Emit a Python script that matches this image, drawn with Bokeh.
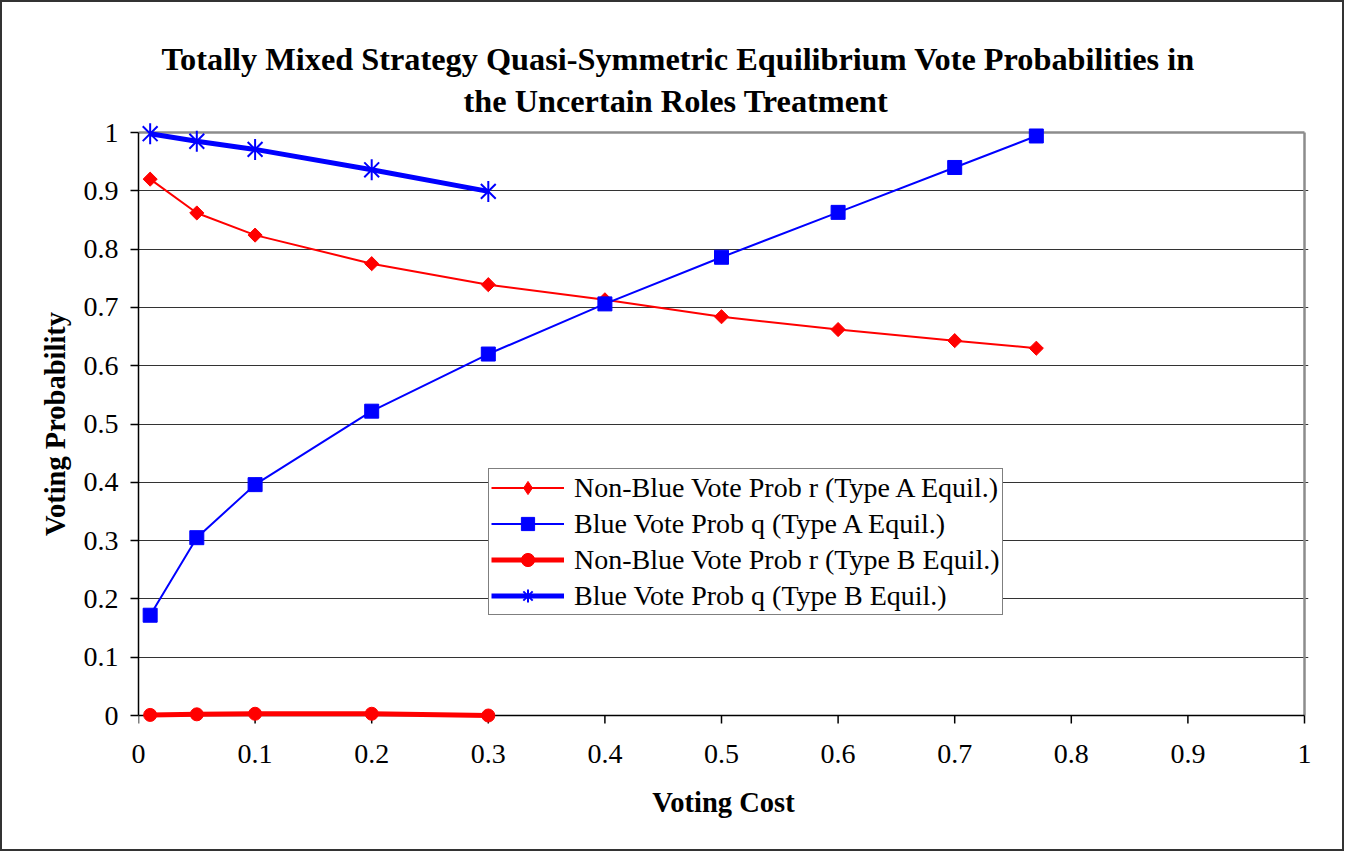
import math
from bokeh.plotting import figure
from bokeh.models import Range1d, FixedTicker, Legend, LegendItem, Title
from bokeh.embed import file_html
from bokeh.resources import INLINE

# ---- data ----
cost_a = [0.01, 0.05, 0.1, 0.2, 0.3, 0.4, 0.5, 0.6, 0.7, 0.77]
r_type_a = [0.920, 0.862, 0.824, 0.775, 0.739, 0.713, 0.684, 0.662, 0.643, 0.630]
q_type_a = [0.172, 0.305, 0.396, 0.522, 0.620, 0.706, 0.786, 0.863, 0.940, 0.994]
cost_b = [0.01, 0.05, 0.1, 0.2, 0.3]
r_type_b = [0.001, 0.002, 0.003, 0.003, 0.0]
q_type_b = [0.998, 0.985, 0.971, 0.936, 0.899]

ticks = [0, 0.1, 0.2, 0.3, 0.4, 0.5, 0.6, 0.7, 0.8, 0.9, 1]
tick_labels = ["0", "0.1", "0.2", "0.3", "0.4", "0.5", "0.6", "0.7", "0.8", "0.9", "1"]

title_lines = ["Totally Mixed Strategy Quasi-Symmetric Equilibrium Vote Probabilities in",
               "the Uncertain Roles Treatment"]
x_title = "Voting Cost"
y_title = "Voting Probability"
legend_labels = ["Non-Blue Vote Prob r (Type A Equil.)",
                 "Blue Vote Prob q (Type A Equil.)",
                 "Non-Blue Vote Prob r (Type B Equil.)",
                 "Blue Vote Prob q (Type B Equil.)"]

FONT = "Liberation Serif"
PX_Y = 583.0   # pixels per unit on y
PX_X = 1166.0  # pixels per unit on x
nan = float("nan")

p = figure(width=1344, height=851, output_backend="svg", toolbar_location=None,
           x_range=Range1d(0, 1 + 4 / PX_X), y_range=Range1d(-12 / PX_Y, 1 + 12 / PX_Y),
           min_border_left=136, min_border_right=38, min_border_top=118, min_border_bottom=126)
p.title_location = None
p.styles = {"border": "2px solid #333333"}
p.outline_line_color = None
p.background_fill_color = "white"
p.border_fill_color = "white"

# axes
for ax in (p.xaxis[0], p.yaxis[0]):
    ax.ticker = FixedTicker(ticks=ticks)
    ax.major_label_overrides = {t: l for t, l in zip(ticks, tick_labels)}
    ax.bounds = (0, 1)
    ax.minor_tick_line_color = None
    ax.major_label_text_font = FONT
    ax.major_label_text_font_size = "28px"
    ax.major_label_text_color = "black"
    ax.axis_label_text_font = FONT
    ax.axis_label_text_font_size = "28.5px"
    ax.axis_label_text_font_style = "bold"
    ax.axis_label_text_color = "black"
xa = p.xaxis[0]
xa.axis_line_color = None
xa.major_tick_line_color = None
xa.major_tick_out = 0
xa.major_tick_in = 0
xa.major_label_standoff = 17
xa.axis_label = x_title
xa.axis_label_standoff = 21
ya = p.yaxis[0]
ya.axis_line_color = "black"
ya.axis_line_width = 1.5
ya.major_tick_line_color = "black"
ya.major_tick_line_width = 1.5
ya.major_tick_out = 8
ya.major_tick_in = 0
ya.major_label_standoff = 12
ya.axis_label = y_title
ya.axis_label_standoff = 10

p.xgrid.grid_line_color = None
p.ygrid.ticker = FixedTicker(ticks=ticks[1:-1])
p.ygrid.grid_line_color = "#333333"
p.ygrid.grid_line_width = 1.2

# plot-area frame (top and right, grey) and the x axis line with its ticks at y = 0
p.segment(x0=[0, 1], y0=[1, 0], x1=[1, 1], y1=[1, 1], line_color="#8c8c8c", line_width=2.5)
p.segment(x0=[0], y0=[0], x1=[1], y1=[0], line_color="black", line_width=1.5)
p.segment(x0=ticks, y0=[0] * len(ticks), x1=ticks, y1=[-8 / PX_Y] * len(ticks),
          line_color="black", line_width=1.5)

# series
la = p.line(cost_a, r_type_a, line_color="red", line_width=2)
ma = p.scatter(cost_a, r_type_a, marker="square", angle=math.pi / 4, size=10,
               fill_color="red", line_color="red")
lb = p.line(cost_a, q_type_a, line_color="blue", line_width=2)
mb = p.scatter(cost_a, q_type_a, marker="square", size=14, fill_color="blue", line_color="blue")
lc = p.line(cost_b, r_type_b, line_color="red", line_width=5)
mc = p.scatter(cost_b, r_type_b, marker="circle", size=13, fill_color="red", line_color="red")
ld = p.line(cost_b, q_type_b, line_color="blue", line_width=5)
md1 = p.scatter(cost_b, q_type_b, marker="x", size=21, line_color="blue", line_width=2)
md2 = p.scatter(cost_b, q_type_b, marker="dash", angle=math.pi / 2, size=21,
                line_color="blue", line_width=2)

# legend-only glyph stand-ins (no data drawn in the plot)
ka = p.scatter([nan], [nan], marker="diamond", size=14, fill_color="red", line_color="red")
kd = p.scatter([nan], [nan], marker="asterisk", size=20, line_color="blue", line_width=2)

legend = Legend(items=[
    LegendItem(label=legend_labels[0], renderers=[la, ka]),
    LegendItem(label=legend_labels[1], renderers=[lb, mb]),
    LegendItem(label=legend_labels[2], renderers=[lc, mc]),
    LegendItem(label=legend_labels[3], renderers=[ld, kd]),
], location=(350, 112), orientation="vertical")
legend.margin = 0
legend.padding = 2
legend.spacing = 3
legend.glyph_height = 33
legend.label_height = 33
legend.glyph_width = 73
legend.label_standoff = 10
legend.label_text_font = FONT
legend.label_text_font_size = "28px"
legend.label_text_color = "black"
legend.border_line_color = "black"
legend.border_line_width = 1.5
legend.background_fill_color = "white"
legend.background_fill_alpha = 1
p.add_layout(legend, "center")

# title: two lines above the plot area
t2 = Title(text=title_lines[1], align="left", offset=325, text_font=FONT,
           text_font_size="32.3px", text_font_style="bold", text_color="black", standoff=4)
t1 = Title(text=title_lines[0], align="left", offset=23, text_font=FONT,
           text_font_size="32.3px", text_font_style="bold", text_color="black", standoff=4)
p.add_layout(t2, "above")
p.add_layout(t1, "above")

open("out.html", "w").write(file_html(p, INLINE))
